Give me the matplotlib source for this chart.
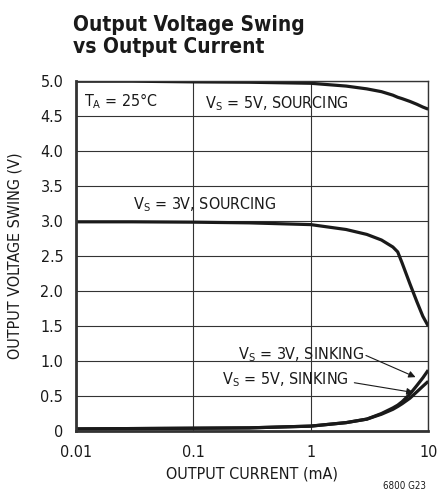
import matplotlib
matplotlib.use("Agg")
import matplotlib.pyplot as plt

# Condensed sans, close to the datasheet lettering
plt.rcParams['font.family'] = ['DejaVu Sans']
plt.rcParams['font.stretch'] = 'condensed'
plt.rcParams['mathtext.fontset'] = 'custom'
plt.rcParams['mathtext.rm'] = 'DejaVu Sans'
plt.rcParams['mathtext.it'] = 'DejaVu Sans'
plt.rcParams['mathtext.default'] = 'regular'

# Data
current = [0.01, 0.03, 0.1, 0.3, 1, 2, 3, 4, 5, 5.5, 6, 7, 8, 9, 10]
v5_sourcing = [5.0, 5.0, 4.99, 4.985, 4.97, 4.93, 4.89, 4.85, 4.8, 4.77, 4.75, 4.71, 4.67, 4.63, 4.6]
v3_sourcing = [2.99, 2.99, 2.985, 2.975, 2.95, 2.88, 2.81, 2.73, 2.63, 2.56, 2.40, 2.10, 1.85, 1.64, 1.5]
v3_sinking = [0.03, 0.035, 0.04, 0.045, 0.07, 0.12, 0.17, 0.25, 0.33, 0.37, 0.42, 0.53, 0.65, 0.76, 0.87]
v5_sinking = [0.03, 0.035, 0.04, 0.045, 0.07, 0.12, 0.17, 0.24, 0.31, 0.35, 0.39, 0.47, 0.56, 0.64, 0.71]

x_ticks = [0.01, 0.1, 1, 10]
x_labels = ['0.01', '0.1', '1', '10']
y_ticks = [0, 0.5, 1.0, 1.5, 2.0, 2.5, 3.0, 3.5, 4.0, 4.5, 5.0]
y_labels = ['0', '0.5', '1.0', '1.5', '2.0', '2.5', '3.0', '3.5', '4.0', '4.5', '5.0']

fig = plt.figure(figsize=(4.41, 4.98), dpi=100)
ax = fig.add_axes([0.172, 0.1345, 0.799, 0.7025])

ink = '#1a1a1a'
lw = 2.3
ax.plot(current, v5_sourcing, color=ink, lw=lw, solid_capstyle='butt')
ax.plot(current, v3_sourcing, color=ink, lw=lw, solid_capstyle='butt')
ax.plot(current, v3_sinking, color=ink, lw=lw, solid_capstyle='butt')
ax.plot(current, v5_sinking, color=ink, lw=lw, solid_capstyle='butt')

ax.set_xscale('log')
ax.set_xlim(0.01, 10)
ax.set_ylim(0, 5)
ax.set_xticks(x_ticks)
ax.set_xticklabels(x_labels)
ax.set_yticks(y_ticks)
ax.set_yticklabels(y_labels)
ax.minorticks_off()
ax.tick_params(length=0, labelsize=11.5, colors=ink)
ax.tick_params(axis='x', pad=10)
ax.tick_params(axis='y', pad=9)
ax.grid(True, color='#333333', lw=0.8)
for s in ax.spines.values():
    s.set_color('#333333')
    s.set_linewidth(1.0)
ax.spines['left'].set_linewidth(2.0)
ax.spines['bottom'].set_linewidth(2.0)

ax.set_xlabel('OUTPUT CURRENT (mA)', fontsize=11.5, color=ink, labelpad=5)
ax.set_ylabel('OUTPUT VOLTAGE SWING (V)', fontsize=11.5, color=ink, labelpad=13)

# labels inside the plot
ax.text(0.0117, 4.71, '$T_A$ = 25°C', fontsize=11.5, color=ink, va='center')
ax.text(0.126, 4.68, '$V_S$ = 5V, SOURCING', fontsize=11.5, color=ink, va='center')
ax.text(0.0306, 3.23, '$V_S$ = 3V, SOURCING', fontsize=11.5, color=ink, va='center')
ax.text(0.24, 1.09, '$V_S$ = 3V, SINKING', fontsize=11.5, color=ink, va='center')
ax.text(0.176, 0.73, '$V_S$ = 5V, SINKING', fontsize=11.5, color=ink, va='center')

ax.annotate('', xy=(7.8, 0.77), xytext=(2.95, 1.08),
            arrowprops=dict(arrowstyle='-|>', color=ink, lw=0.8,
                            mutation_scale=10, shrinkA=0, shrinkB=0))
ax.annotate('', xy=(7.5, 0.55), xytext=(2.35, 0.69),
            arrowprops=dict(arrowstyle='-|>', color=ink, lw=0.8,
                            mutation_scale=10, shrinkA=0, shrinkB=0))

fig.text(0.165, 0.928, 'Output Voltage Swing\nvs Output Current', fontsize=15,
         fontweight='bold', color=ink, va='center', ha='left', linespacing=1.12)
fig.text(0.965, 0.015, '6800 G23', fontsize=7, color=ink, ha='right', va='bottom')

fig.savefig('out.png', dpi=100)
